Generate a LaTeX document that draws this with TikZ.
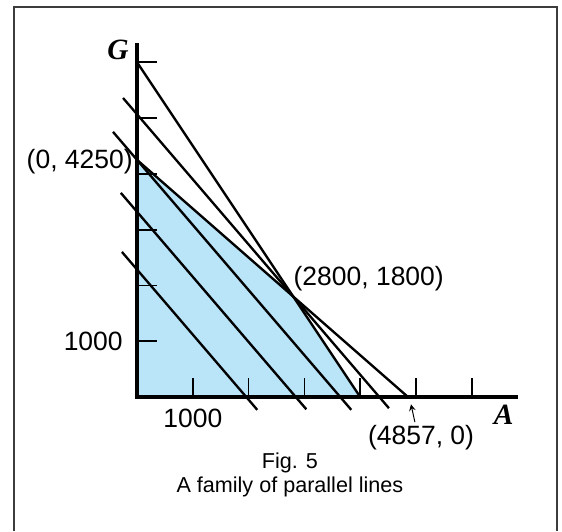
\documentclass[tikz,border=0pt]{standalone}
\usepackage{fontspec}
\setmainfont{Liberation Sans}
\newfontfamily\axisfont{Liberation Serif}
\usetikzlibrary{arrows,positioning}
\definecolor{regionblue}{RGB}{186,228,248}
\definecolor{framegray}{RGB}{60,60,60}
\tikzset{axisline/.style={line width=1.8pt},
    famline/.style={line width=1.2pt},
    tickline/.style={line width=0.9pt},
    ptlabel/.style={inner sep=0,font=\fontsize{13.5}{16}\selectfont},
    axislabel/.style={inner sep=0,font=\axisfont\bfseries\itshape\fontsize{15}{17}\selectfont},
    figcap/.style={inner sep=0,font=\fontsize{11}{13}\selectfont}}

\begin{document}
\begin{tikzpicture}
\useasboundingbox (-2.455,-2.401) rectangle (7.616,7.115);
\draw [framegray,line width=1pt] (-2.204,-2.401) -- (-2.204,6.995) -- (7.527,6.995) -- (7.527,-2.401);

\coordinate (o) at (0,0);
\coordinate (c 1) at (0,4.25);
\coordinate (c 2) at (2.8,1.8);
\coordinate (c 3) at (4.857,0);
\coordinate (c 4) at (4,0);
\coordinate (c 5) at (0,6);

\fill [regionblue] (o) -- (c 1) -- (c 2) -- (c 4) -- cycle;

% ticks
\foreach \i in {1,...,6} {
  \draw [tickline] (\i,0) -- (\i,0.34);
  \draw [tickline] (0,\i) -- (0.36,\i);
}

% family of parallel lines
\foreach \b/\s/\e in {5.067/-0.25/-0.2, 4.25/-0.43/-0.23, 3.32/-0.29/-0.22, 2.285/-0.27/-0.23}
  \draw [famline] (\s,{\b-7/6*\s}) -- ({(\b-\e)*6/7},\e);

\draw [famline] (c 1) -- (c 3);
\draw [famline] (c 5) -- (c 4);

% axes
\draw [axisline] (0,6.34) -- (o) -- (6.83,0);

\node (lbl 1) [ptlabel,anchor=east] at (-0.07,4.21) {(0, 4250)};
\node (lbl 2) [ptlabel,anchor=west] at (2.8,2.13) {(2800, 1800)};
\node (lbl 3) [ptlabel] at (5.09,-0.735) {(4857, 0)};
\node (ylab) [ptlabel,anchor=east] at (-0.25,1) {1000};
\node (xlab) [ptlabel] at (1,-0.376) {1000};
\node (gax) [axislabel] at (-0.34,6.22) {G};
\node (aax) [axislabel] at (6.57,-0.32) {A};

\coordinate (arr s) at (4.98,-0.45);
\coordinate (arr e) at (4.91,-0.13);
\draw [->,>=stealth,line width=0.5pt] (arr s) -- (arr e);

\node (cap 1) [figcap] at (2.74,-1.18) {Fig. 5};
\node (cap 2) [figcap] at (2.74,-1.61) {A family of parallel lines};

\end{tikzpicture}
\end{document}
